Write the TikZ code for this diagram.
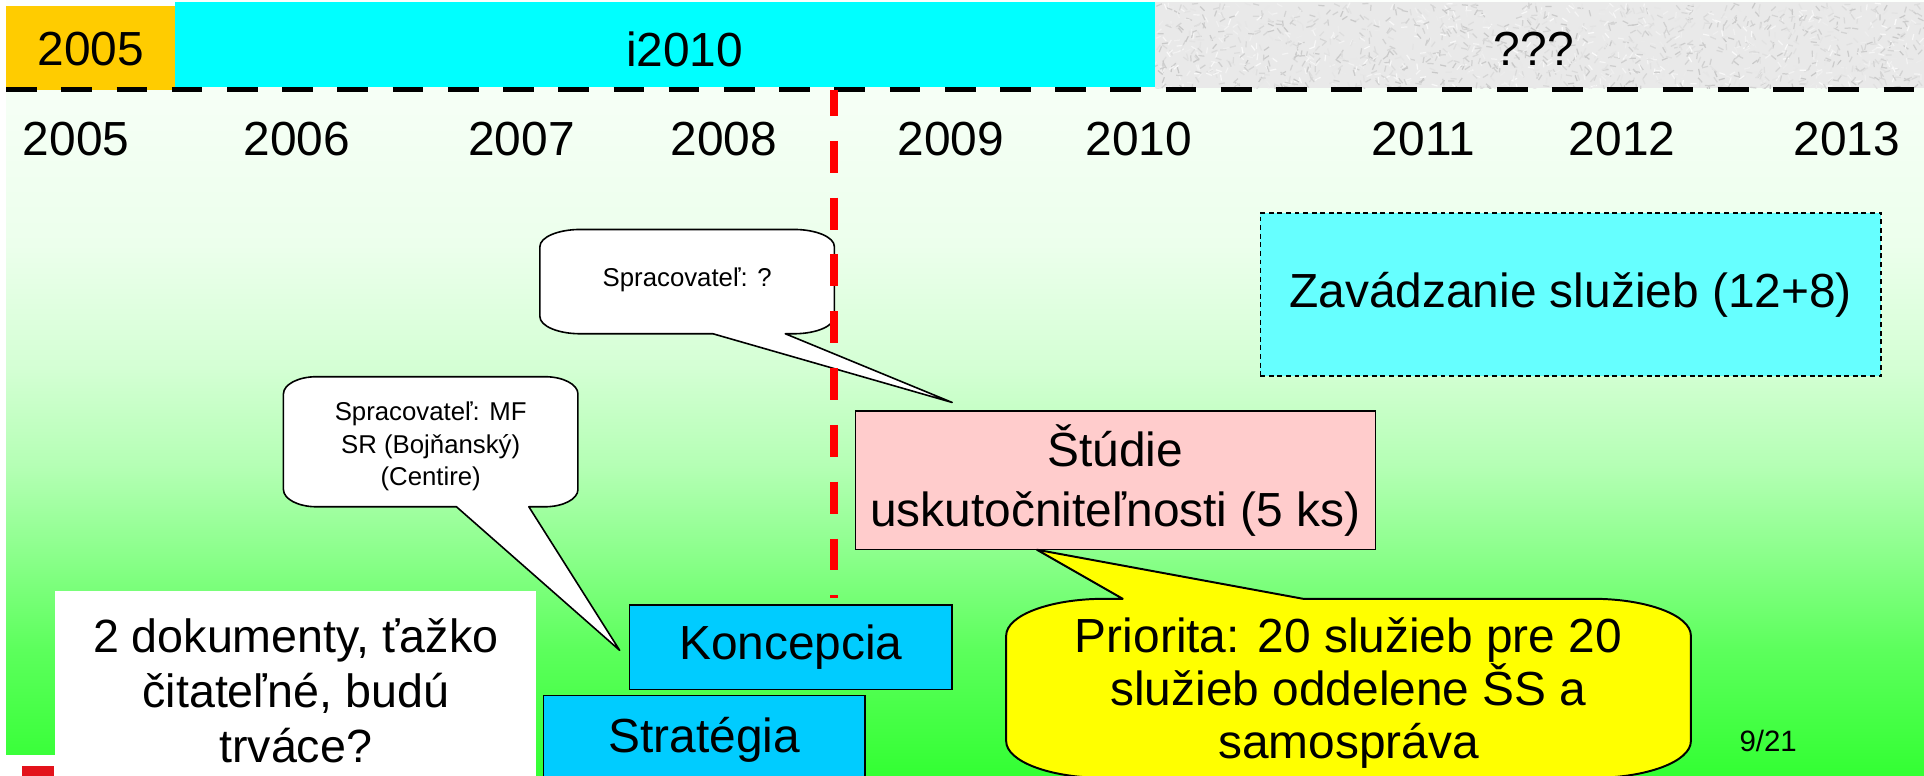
\documentclass[tikz,border=0pt]{standalone}
\usepackage{fontspec}
\setmainfont{Liberation Sans}
\definecolor{orangebar}{HTML}{FFCC00}
\definecolor{cyanbar}{HTML}{00FFFF}
\definecolor{graybar}{HTML}{E9E9E9}
\definecolor{bluebox}{HTML}{00CCFF}
\definecolor{pinkbox}{HTML}{FFCCCC}
\definecolor{cyanbox}{HTML}{66FFFF}
\definecolor{yellowb}{HTML}{FFFF00}
\definecolor{redline}{HTML}{FF0000}
\definecolor{logored}{HTML}{E3121B}
\definecolor{ga}{HTML}{33FF33}
\definecolor{gb}{HTML}{5CFF5C}
\definecolor{gc}{HTML}{8CFF8C}
\definecolor{gd}{HTML}{B4FFB4}
\definecolor{ge}{HTML}{D4FFD4}
\definecolor{gf}{HTML}{ECFFEC}
\definecolor{gg}{HTML}{FCFFFC}
\pgfdeclareverticalshading{bggrad}{100bp}{color(0bp)=(ga); color(25bp)=(ga); color(33.1bp)=(gb); color(39.4bp)=(gc); color(44.9bp)=(gd); color(51.3bp)=(ge); color(59.2bp)=(gf); color(75bp)=(gg); color(100bp)=(gg)}
% bubble with tail on bottom edge: x1,y1,x2,y2,rx,ry,a,b,tip
\newcommand{\bubbot}[9]{%
\path[bub] ({#1+#5},#2) -- ({#3-#5},#2) .. controls ({#3-0.448*#5},#2) and (#3,{#2+0.448*#6}) .. (#3,{#2+#6})
 -- (#3,{#4-#6}) .. controls (#3,{#4-0.448*#6}) and ({#3-0.448*#5},#4) .. ({#3-#5},#4)
 -- (#8,#4) -- (#9) -- (#7,#4)
 -- ({#1+#5},#4) .. controls ({#1+0.448*#5},#4) and (#1,{#4-0.448*#6}) .. (#1,{#4-#6})
 -- (#1,{#2+#6}) .. controls (#1,{#2+0.448*#6}) and ({#1+0.448*#5},#2) .. ({#1+#5},#2) -- cycle;}
% bubble with tail on top edge
\newcommand{\bubtop}[9]{%
\path[bub] ({#1+#5},#2) -- (#7,#2) -- (#9) -- (#8,#2)
 -- ({#3-#5},#2) .. controls ({#3-0.448*#5},#2) and (#3,{#2+0.448*#6}) .. (#3,{#2+#6})
 -- (#3,{#4-#6}) .. controls (#3,{#4-0.448*#6}) and ({#3-0.448*#5},#4) .. ({#3-#5},#4)
 -- ({#1+#5},#4) .. controls ({#1+0.448*#5},#4) and (#1,{#4-0.448*#6}) .. (#1,{#4-#6})
 -- (#1,{#2+#6}) .. controls (#1,{#2+0.448*#6}) and ({#1+0.448*#5},#2) .. ({#1+#5},#2) -- cycle;}
\begin{document}
\begin{tikzpicture}[x=1pt,y=-1pt,
  big/.style={font=\fontsize{39}{46}\selectfont},
  small/.style={font=\fontsize{21}{26}\selectfont},
  txt/.style={inner sep=0pt,align=center},
  bluebx/.style={draw=black,line width=1.2pt,fill=bluebox},
  bub/.style={draw=black,line width=1.3pt,fill=white,line join=round}]
\useasboundingbox (0,0) rectangle (1568,632);
\begin{scope}
\clip (0,0) rectangle (1568,632);
% background gradient
\shade[shading=bggrad] (5,0) rectangle (1568,632);
\fill[white] (0,615) rectangle (45,632);
\fill[logored] (18,624) rectangle (44,632);
% top bar
\fill[graybar] (941,2) rectangle (1568,72);
\begin{scope}
\clip (941,2) rectangle (1568,72);
\pgfmathsetseed{12}
\foreach \i in {1,...,1600}{
  \pgfmathsetmacro{\px}{941+rnd*627}
  \pgfmathsetmacro{\py}{2+rnd*70}
  \pgfmathsetmacro{\pa}{rnd*180}
  \pgfmathsetmacro{\pc}{2+rnd*20}
  \draw[black!\pc, line width=1pt] (\px,\py) -- ++(\pa:5);
}
\end{scope}
\fill[cyanbar] (143,2) rectangle (941,71);
\fill[orangebar] (5,5) rectangle (143,73);
\draw[line width=3.5pt, dash pattern=on 25pt off 20pt] (5,73) -- (1568,73);
\node[big,txt] (top2005) at (74,40) {2005};
\node[big,txt] (topi2010) at (558,40) {i2010};
\node[big,txt] (topq) at (1250,40) {???};
% years
\foreach \xx/\yy in {62/2005,242/2006,425/2007,590/2008,775/2009,928/2010,1160/2011,1322/2012,1505/2013}
  \node[big,txt] (yr\yy) at (\xx,113) {\yy};
% Zavadzanie
\node[big,draw=black,line width=1pt,dash pattern=on 4pt off 3pt,fill=cyanbox,minimum width=506pt,minimum height=133pt,inner sep=0pt] (zav) at (1280,240) {Zavádzanie služieb (12+8)};
% bubble 1
\coordinate (tipA) at (776,328);
\bubbot{440}{187}{680}{272}{33}{14}{581}{640}{tipA}
\node[small,txt] (bubA) at (560,228) {Spracovateľ: ?};
% bubble 2
\coordinate (tipB) at (505,530);
\bubbot{231}{307}{471}{413}{27}{14}{372}{431}{tipB}
\node[small,txt,font=\fontsize{21}{26.5}\selectfont] (bubB) at (351,364) {Spracovateľ: MF\\SR (Bojňanský)\\(Centire)};
% Studie box
\node[big,txt,draw=black,line width=1.2pt,fill=pinkbox,minimum width=424pt,minimum height=113pt,font=\fontsize{39}{49}\selectfont] (stud) at (909,391.5) {Štúdie\\uskutočniteľnosti (5 ks)};
% yellow bubble
\coordinate (tipC) at (845,448);
\begin{scope}[bub/.append style={fill=yellowb,line width=1.6pt}]
\bubtop{820}{488}{1378}{634}{80}{30}{915}{1062}{tipC}
\end{scope}
\node[big,txt,font=\fontsize{39}{43}\selectfont] (prio) at (1099,565) {Priorita: 20 služieb pre 20\\služieb oddelene ŠS a\\samospráva};
% white box
\fill[white] (45,482) rectangle (437,640);
\node[big,txt,font=\fontsize{38}{44.5}\selectfont] (doc) at (241,563) {2 dokumenty, ťažko\\čitateľné, budú\\trváce?};
% Koncepcia / Strategia
\node[big,bluebx,minimum width=263pt,minimum height=69pt,inner sep=0pt] (konc) at (644.5,527.5) {Koncepcia};
\path[bluebx] (443,567) rectangle (705,640);
\node[big,txt] (strat) at (574,603) {Stratégia};
% page number
\node[font=\fontsize{24}{28}\selectfont,txt] (pg) at (1441,604) {9/21};
% red dashed line
\coordinate (rtop) at (680,73);
\coordinate (rbot) at (680,487);
\draw[redline,line width=6.5pt,dash pattern=on 26pt off 20.3pt,dash phase=4.5pt] (rtop) -- (rbot);
\end{scope}
\end{tikzpicture}
\end{document}
